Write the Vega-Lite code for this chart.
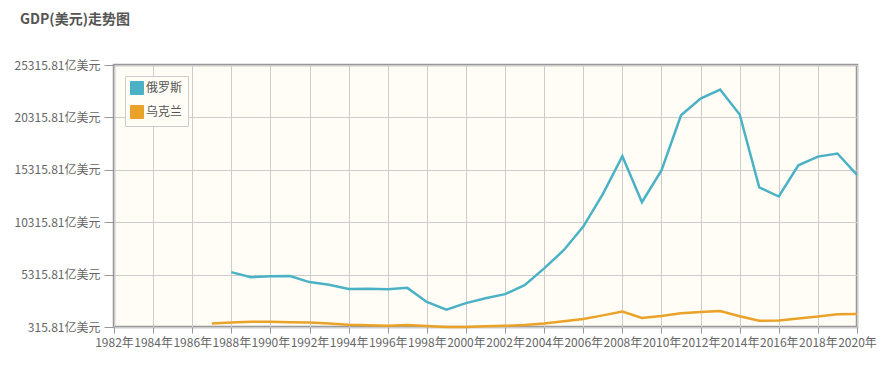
{
  "$schema": "https://vega.github.io/schema/vega-lite/v6.json",
  "width": 743,
  "height": 262,
  "autosize": {"type": "none"},
  "padding": {"left": 114, "top": 65, "right": 24, "bottom": 46},
  "background": "#ffffff",
  "title": {
    "text": "GDP(美元)走势图",
    "anchor": "start",
    "frame": "group",
    "dx": -94,
    "dy": -28,
    "font": "Noto Sans CJK SC",
    "fontSize": 14,
    "fontWeight": "bold",
    "color": "#555555"
  },
  "data": {
    "values": [
      {"year": 1988, "country": "俄罗斯", "gdp": 5549},
      {"year": 1989, "country": "俄罗斯", "gdp": 5063},
      {"year": 1990, "country": "俄罗斯", "gdp": 5168},
      {"year": 1991, "country": "俄罗斯", "gdp": 5179},
      {"year": 1992, "country": "俄罗斯", "gdp": 4602},
      {"year": 1993, "country": "俄罗斯", "gdp": 4350},
      {"year": 1994, "country": "俄罗斯", "gdp": 3951},
      {"year": 1995, "country": "俄罗斯", "gdp": 3955},
      {"year": 1996, "country": "俄罗斯", "gdp": 3917},
      {"year": 1997, "country": "俄罗斯", "gdp": 4049},
      {"year": 1998, "country": "俄罗斯", "gdp": 2710},
      {"year": 1999, "country": "俄罗斯", "gdp": 1959},
      {"year": 2000, "country": "俄罗斯", "gdp": 2597},
      {"year": 2001, "country": "俄罗斯", "gdp": 3066},
      {"year": 2002, "country": "俄罗斯", "gdp": 3451},
      {"year": 2003, "country": "俄罗斯", "gdp": 4303},
      {"year": 2004, "country": "俄罗斯", "gdp": 5910},
      {"year": 2005, "country": "俄罗斯", "gdp": 7640},
      {"year": 2006, "country": "俄罗斯", "gdp": 9899},
      {"year": 2007, "country": "俄罗斯", "gdp": 12997},
      {"year": 2008, "country": "俄罗斯", "gdp": 16608},
      {"year": 2009, "country": "俄罗斯", "gdp": 12226},
      {"year": 2010, "country": "俄罗斯", "gdp": 15249},
      {"year": 2011, "country": "俄罗斯", "gdp": 20517},
      {"year": 2012, "country": "俄罗斯", "gdp": 22103},
      {"year": 2013, "country": "俄罗斯", "gdp": 22971},
      {"year": 2014, "country": "俄罗斯", "gdp": 20596},
      {"year": 2015, "country": "俄罗斯", "gdp": 13635},
      {"year": 2016, "country": "俄罗斯", "gdp": 12767},
      {"year": 2017, "country": "俄罗斯", "gdp": 15745},
      {"year": 2018, "country": "俄罗斯", "gdp": 16575},
      {"year": 2019, "country": "俄罗斯", "gdp": 16873},
      {"year": 2020, "country": "俄罗斯", "gdp": 14835},
      {"year": 1987, "country": "乌克兰", "gdp": 640},
      {"year": 1988, "country": "乌克兰", "gdp": 748},
      {"year": 1989, "country": "乌克兰", "gdp": 815},
      {"year": 1990, "country": "乌克兰", "gdp": 815},
      {"year": 1991, "country": "乌克兰", "gdp": 775},
      {"year": 1992, "country": "乌克兰", "gdp": 739},
      {"year": 1993, "country": "乌克兰", "gdp": 657},
      {"year": 1994, "country": "乌克兰", "gdp": 526},
      {"year": 1995, "country": "乌克兰", "gdp": 482},
      {"year": 1996, "country": "乌克兰", "gdp": 446},
      {"year": 1997, "country": "乌克兰", "gdp": 502},
      {"year": 1998, "country": "乌克兰", "gdp": 419},
      {"year": 1999, "country": "乌克兰", "gdp": 316},
      {"year": 2000, "country": "乌克兰", "gdp": 313},
      {"year": 2001, "country": "乌克兰", "gdp": 380},
      {"year": 2002, "country": "乌克兰", "gdp": 424},
      {"year": 2003, "country": "乌克兰", "gdp": 501},
      {"year": 2004, "country": "乌克兰", "gdp": 649},
      {"year": 2005, "country": "乌克兰", "gdp": 861},
      {"year": 2006, "country": "乌克兰", "gdp": 1078},
      {"year": 2007, "country": "乌克兰", "gdp": 1427},
      {"year": 2008, "country": "乌克兰", "gdp": 1800},
      {"year": 2009, "country": "乌克兰", "gdp": 1171},
      {"year": 2010, "country": "乌克兰", "gdp": 1360},
      {"year": 2011, "country": "乌克兰", "gdp": 1632},
      {"year": 2012, "country": "乌克兰", "gdp": 1758},
      {"year": 2013, "country": "乌克兰", "gdp": 1833},
      {"year": 2014, "country": "乌克兰", "gdp": 1335},
      {"year": 2015, "country": "乌克兰", "gdp": 910},
      {"year": 2016, "country": "乌克兰", "gdp": 934},
      {"year": 2017, "country": "乌克兰", "gdp": 1121},
      {"year": 2018, "country": "乌克兰", "gdp": 1309},
      {"year": 2019, "country": "乌克兰", "gdp": 1539},
      {"year": 2020, "country": "乌克兰", "gdp": 1566}
    ]
  },
  "mark": {"type": "line", "strokeWidth": 2.5, "clip": false},
  "encoding": {
    "x": {
      "field": "year",
      "type": "quantitative",
      "scale": {"domain": [1982, 2020], "nice": false, "zero": false},
      "axis": {
        "title": null,
        "values": [1982, 1984, 1986, 1988, 1990, 1992, 1994, 1996, 1998, 2000, 2002, 2004, 2006, 2008, 2010, 2012, 2014, 2016, 2018, 2020],
        "labelExpr": "datum.value + '年'",
        "labelOverlap": false,
        "labelFlush": false,
        "tickSize": 6,
        "labelPadding": 4
      }
    },
    "y": {
      "field": "gdp",
      "type": "quantitative",
      "scale": {"domain": [315.81, 25315.81], "nice": false, "zero": false},
      "axis": {
        "title": null,
        "values": [315.81, 5315.81, 10315.81, 15315.81, 20315.81, 25315.81],
        "labelExpr": "format(datum.value, '.2f') + '亿美元'",
        "tickSize": 10,
        "labelPadding": 4
      }
    },
    "color": {
      "field": "country",
      "type": "nominal",
      "sort": ["俄罗斯", "乌克兰"],
      "scale": {"domain": ["俄罗斯", "乌克兰"], "range": ["#4bb2c5", "#eaa228"]},
      "legend": {
        "title": null,
        "orient": "top-left",
        "offset": 11,
        "padding": 5,
        "strokeColor": "#cccccc",
        "fillColor": "#fffdf6",
        "symbolType": "square",
        "symbolSize": 169,
        "symbolStrokeColor": "#cccccc",
        "symbolStrokeWidth": 1,
        "rowPadding": 6,
        "labelOffset": 2,
        "labelFontSize": 12,
        "labelColor": "#555555",
        "labelFont": "Noto Sans CJK SC",
        "encode": {
          "symbols": {
            "update": {
              "fill": {"scale": "color", "field": "value"},
              "stroke": {"value": "#cccccc"},
              "strokeWidth": {"value": 1},
              "opacity": {"value": 1}
            }
          }
        }
      }
    }
  },
  "config": {
    "view": {"stroke": "#999999", "strokeWidth": 2.5, "fill": "#fffdf6"},
    "axis": {
      "domain": false,
      "grid": true,
      "gridColor": "#cccccc",
      "gridWidth": 1,
      "gridOpacity": 1,
      "tickColor": "#999999",
      "tickWidth": 1,
      "labelFont": "Noto Sans CJK SC",
      "labelFontSize": 12,
      "labelColor": "#666666"
    }
  }
}
